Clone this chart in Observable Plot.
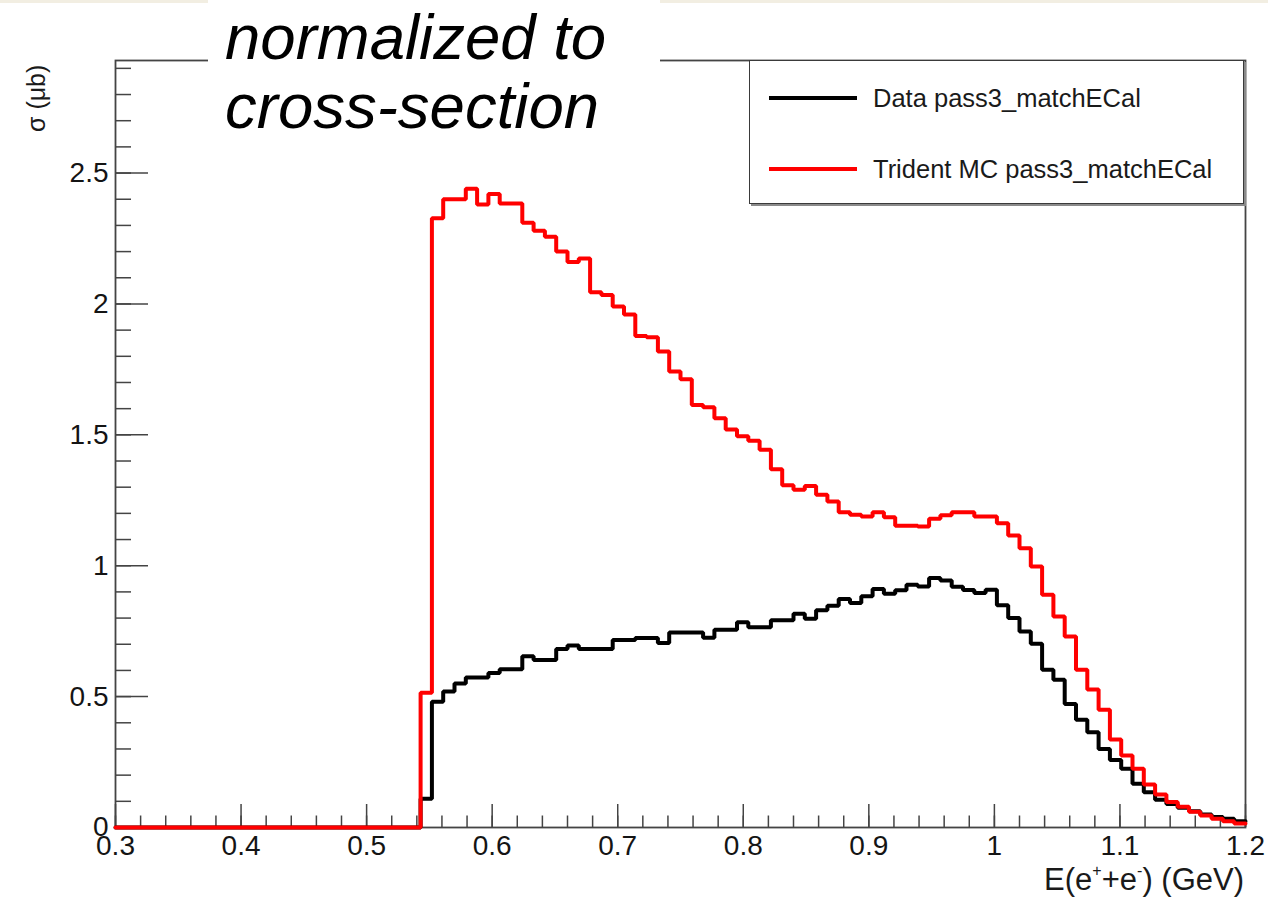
<!DOCTYPE html>
<html>
<head>
<meta charset="utf-8">
<script src="https://cdn.jsdelivr.net/npm/d3@7"></script>
<script src="https://cdn.jsdelivr.net/npm/@observablehq/plot@0.6"></script>
<style>
  html, body { margin: 0; padding: 0; background: #fff; }
  #wrap { position: relative; width: 1268px; height: 900px; overflow: hidden;
          font-family: "Liberation Sans", Arial, Helvetica, sans-serif; color: #1a1a1a; }
  #strip { position: absolute; left: 0; top: 0; width: 1268px; height: 3px; background: #f2eee2; }
  #chart { position: absolute; left: 0; top: 0; }
  #xtitle { position: absolute; right: 24px; top: 862px; font-size: 31px; line-height: 36px; white-space: nowrap; }
  #xtitle sup { font-size: 16px; vertical-align: 14px; line-height: 0; }
  #ytitle { position: absolute; left: 22px; top: 62px; font-size: 25px; white-space: nowrap;
            transform-origin: 0 0; transform: translate(0, 70px) rotate(-90deg); }
  #legend { position: absolute; left: 749px; top: 60px; width: 493px; height: 142px;
            border: 1.5px solid #3a3a3a; background: #fff; box-shadow: 2px 2px 0 #8a8a8a; }
  .entry { position: absolute; left: 19px; height: 30px; display: flex; align-items: center; }
  .swatch { width: 88px; height: 4px; margin-right: 16px; }
  .entry span { font-size: 25.5px; white-space: nowrap; }
  #note { position: absolute; left: 208px; top: 0; width: 452px; height: 150px; background: #fff; }
  #note div { position: absolute; left: 17px; font-style: italic; font-size: 63.5px; line-height: 69px;
              white-space: nowrap; color: #000; }
</style>
</head>
<body>
<div id="wrap">
  <div id="strip"></div>
  <div id="chart"></div>
  <div id="xtitle">E(e<sup>+</sup>+e<sup>-</sup>) (GeV)</div>
  <div id="ytitle">σ (μb)</div>
  <div id="legend"></div>
  <div id="note"><div style="top:3px">normalized to</div><div style="top:72px">cross-section</div></div>
</div>
<script>
// Histogram binning: 100 bins on [0.3, 1.2] GeV
const binLow = 0.3;
const binHigh = 1.2;
const binWidth = 0.009;

// Cross-section per bin (μb), data
const dataSigma = [
  0, 0, 0, 0, 0, 0, 0, 0, 0, 0,
  0, 0, 0, 0, 0, 0, 0, 0, 0, 0,
  0, 0, 0, 0, 0, 0, 0, 0.11, 0.48, 0.52,
  0.55, 0.573, 0.573, 0.59, 0.605, 0.605, 0.654, 0.64, 0.64, 0.682,
  0.695, 0.682, 0.682, 0.682, 0.716, 0.716, 0.724, 0.724, 0.705, 0.745,
  0.745, 0.745, 0.725, 0.755, 0.755, 0.784, 0.765, 0.765, 0.792, 0.792,
  0.817, 0.797, 0.83, 0.847, 0.873, 0.858, 0.883, 0.911, 0.893, 0.906,
  0.927, 0.921, 0.953, 0.944, 0.92, 0.907, 0.896, 0.908, 0.849, 0.80,
  0.749, 0.702, 0.603, 0.564, 0.472, 0.412, 0.364, 0.30, 0.258, 0.224,
  0.167, 0.135, 0.106, 0.09, 0.075, 0.062, 0.05, 0.04, 0.033, 0.024
];

// Cross-section per bin (μb), trident Monte Carlo
const mcSigma = [
  0, 0, 0, 0, 0, 0, 0, 0, 0, 0,
  0, 0, 0, 0, 0, 0, 0, 0, 0, 0,
  0, 0, 0, 0, 0, 0, 0, 0.515, 2.327, 2.40,
  2.40, 2.44, 2.38, 2.42, 2.384, 2.384, 2.31, 2.28, 2.257, 2.20,
  2.16, 2.174, 2.045, 2.034, 1.99, 1.96, 1.878, 1.873, 1.818, 1.742,
  1.712, 1.614, 1.605, 1.563, 1.52, 1.495, 1.477, 1.443, 1.369, 1.307,
  1.29, 1.305, 1.271, 1.245, 1.204, 1.195, 1.188, 1.204, 1.185, 1.153,
  1.153, 1.15, 1.179, 1.193, 1.204, 1.204, 1.188, 1.188, 1.162, 1.115,
  1.067, 0.997, 0.889, 0.806, 0.730, 0.603, 0.527, 0.45, 0.336, 0.275,
  0.224, 0.164, 0.126, 0.097, 0.079, 0.06, 0.046, 0.033, 0.024, 0.015
];

const seriesNames = ["Data pass3_matchECal", "Trident MC pass3_matchECal"];
const seriesColors = ["#000000", "#ff0000"];

// Axis ticks
const xMajor = [0.3, 0.4, 0.5, 0.6, 0.7, 0.8, 0.9, 1.0, 1.1, 1.2];
const xTickLabels = ["0.3", "0.4", "0.5", "0.6", "0.7", "0.8", "0.9", "1", "1.1", "1.2"];
const xMinor = d3.range(0.3, 1.2001, 0.02);
const yMajor = [0, 0.5, 1, 1.5, 2, 2.5];
const yTickLabels = ["0", "0.5", "1", "1.5", "2", "2.5"];
const yMinor = d3.range(0, 2.9001, 0.1);
const yMax = 2.93;

// Step outline of a histogram: one point per bin low edge plus the closing high edge
function stepRows(values, name) {
  const rows = values.map((v, i) => ({x: binLow + i * binWidth, y: v, series: name}));
  rows.push({x: binHigh, y: values[values.length - 1], series: name});
  return rows;
}
const rows = [...stepRows(dataSigma, seriesNames[0]), ...stepRows(mcSigma, seriesNames[1])];

const axisColor = "#444";
const labelFont = 28;

const chart = Plot.plot({
  width: 1268,
  height: 900,
  marginLeft: 115,
  marginRight: 23,
  marginTop: 60,
  marginBottom: 73,
  style: {fontFamily: "Liberation Sans, Arial, Helvetica, sans-serif", fontSize: labelFont + "px", color: "#141414", background: "transparent"},
  x: {domain: [binLow, binHigh]},
  y: {domain: [0, yMax]},
  color: {domain: seriesNames, range: seriesColors},
  marks: [
    // inward ticks, ROOT style
    Plot.axisX(xMinor, {tickSize: -11.5, tickFormat: () => "", stroke: axisColor, strokeWidth: 1.5, label: null}),
    Plot.axisX(xMajor, {tickSize: -23, tickFormat: () => "", stroke: axisColor, strokeWidth: 1.5, label: null}),
    Plot.axisX(xMajor, {tickSize: 0, tickPadding: 8, tickFormat: (d, i) => xTickLabels[i], label: null, fill: "#141414", fontSize: labelFont}),
    Plot.axisY(yMinor, {tickSize: -16, tickFormat: () => "", stroke: axisColor, strokeWidth: 1.5, label: null}),
    Plot.axisY(yMajor, {tickSize: -33, tickFormat: () => "", stroke: axisColor, strokeWidth: 1.5, label: null}),
    Plot.axisY(yMajor, {tickSize: 0, tickPadding: 7, tickFormat: (d, i) => yTickLabels[i], label: null, fill: "#141414", fontSize: labelFont}),
    Plot.frame({stroke: axisColor, strokeWidth: 1.8}),
    Plot.line(rows, {x: "x", y: "y", z: "series", stroke: "series", curve: "step-after", strokeWidth: 4, strokeLinejoin: "miter"})
  ]
});
document.getElementById("chart").appendChild(chart);

// Legend box
const legend = document.getElementById("legend");
const entryTops = [22, 93];
seriesNames.forEach((name, i) => {
  const e = document.createElement("div");
  e.className = "entry";
  e.style.top = entryTops[i] + "px";
  const sw = document.createElement("div");
  sw.className = "swatch";
  sw.style.background = seriesColors[i];
  const label = document.createElement("span");
  label.textContent = name;
  e.appendChild(sw);
  e.appendChild(label);
  legend.appendChild(e);
});
</script>
</body>
</html>
